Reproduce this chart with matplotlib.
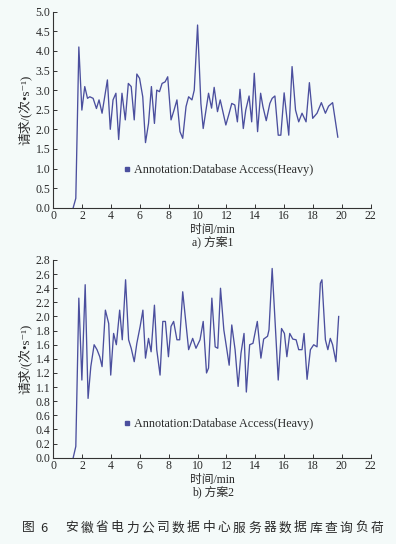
import matplotlib
matplotlib.use("Agg")
import matplotlib.pyplot as plt
from matplotlib.lines import Line2D

# ---------------- data ----------------
t1 = [1.38, 1.56, 1.77, 1.98, 2.18, 2.37, 2.53, 2.76, 2.99, 3.17, 3.38, 3.75, 3.95, 4.14,
      4.34, 4.53, 4.76, 4.99, 5.2, 5.4, 5.61, 5.79, 5.98, 6.2, 6.39, 6.6, 6.8, 7.01, 7.17,
      7.36, 7.54, 7.75, 7.93, 8.16, 8.37, 8.57, 8.78, 8.97, 9.2, 9.38, 9.61, 9.77, 10.0,
      10.23, 10.39, 10.76, 10.97, 11.15, 11.38, 11.57, 11.73, 11.96, 12.19, 12.37, 12.58,
      12.76, 12.94, 13.17, 13.34, 13.57, 13.75, 13.93, 14.16, 14.37, 14.53, 14.76, 15.01,
      15.17, 15.36, 15.59, 15.77, 16.0, 16.32, 16.55, 16.79, 17.01, 17.24, 17.52, 17.75,
      17.98, 18.28, 18.58, 18.86, 19.08, 19.36, 19.72]
req1 = [0.0, 0.24, 4.1, 2.49, 3.09, 2.79, 2.83, 2.79, 2.53, 2.75, 2.41, 3.26, 2.0, 2.75,
        2.92, 1.74, 2.92, 2.24, 3.17, 3.09, 2.24, 3.41, 3.3, 2.83, 1.66, 2.15, 3.09, 2.15,
        3.0, 2.96, 3.17, 3.21, 3.34, 2.24, 2.49, 2.75, 1.94, 1.77, 2.58, 2.83, 2.75, 3.0,
        4.66, 2.66, 2.02, 2.92, 2.54, 3.07, 2.45, 2.75, 2.49, 2.11, 2.41, 2.66, 2.62, 2.19,
        3.02, 2.02, 2.49, 2.85, 2.19, 3.43, 1.94, 2.92, 2.58, 2.22, 2.66, 2.79, 2.85, 1.85,
        1.85, 2.93, 1.85, 3.6, 2.49, 2.19, 2.41, 2.19, 3.19, 2.28, 2.41, 2.68, 2.41, 2.59,
        2.68, 1.8]

t2 = [1.38, 1.56, 1.77, 1.98, 2.21, 2.41, 2.6, 2.83, 3.03, 3.22, 3.38, 3.61, 3.84, 3.98,
      4.18, 4.37, 4.6, 4.78, 5.01, 5.22, 5.4, 5.61, 5.79, 6.02, 6.21, 6.39, 6.6, 6.78, 7.01,
      7.17, 7.4, 7.59, 7.77, 7.98, 8.16, 8.34, 8.57, 8.76, 8.97, 9.38, 9.66, 9.89, 10.17,
      10.39, 10.62, 10.76, 10.99, 11.22, 11.4, 11.59, 11.82, 12.0, 12.19, 12.37, 12.6,
      12.81, 13.01, 13.22, 13.38, 13.61, 13.84, 14.14, 14.39, 14.58, 14.85, 14.95, 15.17,
      15.38, 15.59, 15.82, 16.02, 16.19, 16.39, 16.6, 16.83, 17.01, 17.24, 17.38, 17.59,
      17.82, 18.05, 18.28, 18.51, 18.62, 18.86, 19.03, 19.2, 19.36, 19.59, 19.78]
req2 = [0.0, 0.16, 2.26, 1.1, 2.45, 0.84, 1.29, 1.6, 1.53, 1.43, 1.29, 2.09, 1.9, 1.17,
        1.76, 1.6, 2.09, 1.67, 2.52, 1.67, 1.55, 1.36, 1.62, 1.86, 2.09, 1.41, 1.69, 1.5,
        2.16, 1.53, 1.17, 1.93, 1.93, 1.43, 1.86, 1.93, 1.67, 1.67, 2.35, 1.53, 1.69, 1.55,
        1.67, 1.93, 1.2, 1.27, 2.26, 1.57, 1.55, 2.4, 1.81, 1.57, 1.31, 1.88, 1.53, 1.01,
        1.48, 1.76, 0.93, 1.6, 1.62, 1.93, 1.41, 1.68, 1.72, 1.81, 2.68, 1.9, 1.1, 1.83,
        1.76, 1.43, 1.76, 1.68, 1.67, 1.53, 1.53, 1.76, 1.11, 1.53, 1.6, 1.57, 2.47, 2.52,
        1.67, 1.53, 1.69, 1.6, 1.36, 2.0]

x_ticks = [0, 2, 4, 6, 8, 10, 12, 14, 16, 18, 20, 22]
y1_ticks = [0.0, 0.5, 1.0, 1.5, 2.0, 2.5, 3.0, 3.5, 4.0, 4.5, 5.0]
y1_labels = ["0.0", "0.5", "1.0", "1.5", "2.0", "2.5", "3.0", "3.5", "4.0", "4.5", "5.0"]
y2_ticks = [0.0, 0.2, 0.4, 0.6, 0.8, 1.0, 1.2, 1.4, 1.6, 1.8, 2.0, 2.2, 2.4, 2.6, 2.8]
y2_labels = ["0.0", "0.2", "0.4", "0.6", "0.8", "1.1", "1.2", "1.4", "1.6", "1.8", "2.0",
             "2.2", "2.4", "2.6", "2.8"]

legend_label = "Annotation:Database Access(Heavy)"
ylabel = "请求/(次•s⁻¹)"
xlabel = "时间/min"
sub_a = "a) 方案1"
sub_b = "b) 方案2"
caption_num = ["图", "6"]
caption_text = "安徽省电力公司数据中心服务器数据库查询负荷"

# ---------------- style ----------------
FAM = ["Liberation Serif", "Noto Sans CJK SC", "DejaVu Serif"]
plt.rcParams["font.family"] = FAM
LINE = "#4b4f9e"
BG = "#f4faf9"
TXT = "#2a2a2a"

W, H = 396, 544
fig = plt.figure(figsize=(W / 100, H / 100), dpi=100, facecolor=BG)


def px_rect(left, top, right, bottom):
    return [left / W, 1 - bottom / H, (right - left) / W, (bottom - top) / H]


def style_axes(ax, yticks, ylabels, ymax):
    ax.set_facecolor("none")
    ax.set_xlim(0, 22)
    ax.set_ylim(0, ymax)
    ax.set_xticks(x_ticks)
    ax.set_yticks(yticks)
    ax.set_yticklabels(ylabels)
    for s in ("top", "right"):
        ax.spines[s].set_visible(False)
    for s in ("left", "bottom"):
        ax.spines[s].set_linewidth(0.8)
        ax.spines[s].set_color("#333333")
    ax.tick_params(direction="in", length=3, width=0.7, colors="#333333",
                   labelsize=8.5, labelcolor=TXT, pad=2)


panels = [
    (px_rect(53.3, 11.7, 370.7, 207.7), t1, req1, y1_ticks, y1_labels, 5.0, 0.19,
     sub_a, 11.7, 207.7),
    (px_rect(53.3, 260.0, 370.7, 457.7), t2, req2, y2_ticks, y2_labels, 2.8, 0.169,
     sub_b, 260.0, 457.7),
]

for rect, tx, ry, yt, yl, ymax, leg_y, sub, top_px, bottom_px in panels:
    ax = fig.add_axes(rect)
    style_axes(ax, yt, yl, ymax)
    ax.plot(tx, ry, color=LINE, lw=0.95)
    handle = Line2D([], [], color=LINE, marker="s", markersize=2.6, linestyle="none")
    ax.legend([handle], [legend_label], loc="center left", bbox_to_anchor=(0.205, leg_y),
              frameon=False, handlelength=0.5, handletextpad=0.3, borderpad=0,
              prop={"family": FAM, "size": 8.7}, labelcolor=TXT)
    y_center = (top_px + bottom_px) / 2
    fig.text(25 / W, 1 - y_center / H, ylabel, rotation=90, ha="center", va="center",
             fontsize=9.2, color=TXT)
    fig.text(212 / W, 1 - (bottom_px + 22) / H, xlabel, ha="center", va="center",
             fontsize=8.5, color=TXT)
    fig.text(213 / W, 1 - (bottom_px + 34) / H, sub, ha="center", va="center",
             fontsize=8.5, color=TXT)

# caption with letter spacing
cap_y = 1 - 528 / H
cap_kw = dict(family=["Noto Sans CJK SC"], fontsize=9.2, ha="left", va="center",
              color=TXT, weight="medium")
fig.text(22 / W, cap_y, caption_num[0], **cap_kw)
fig.text(40 / W, cap_y, caption_num[1], **cap_kw)
x0 = 65.0
step = (383.0 - 12.8 - x0) / (len(caption_text) - 1)
for i, ch in enumerate(caption_text):
    fig.text((x0 + i * step) / W, cap_y, ch, **cap_kw)

fig.savefig("out.png", dpi=100, facecolor=BG)
